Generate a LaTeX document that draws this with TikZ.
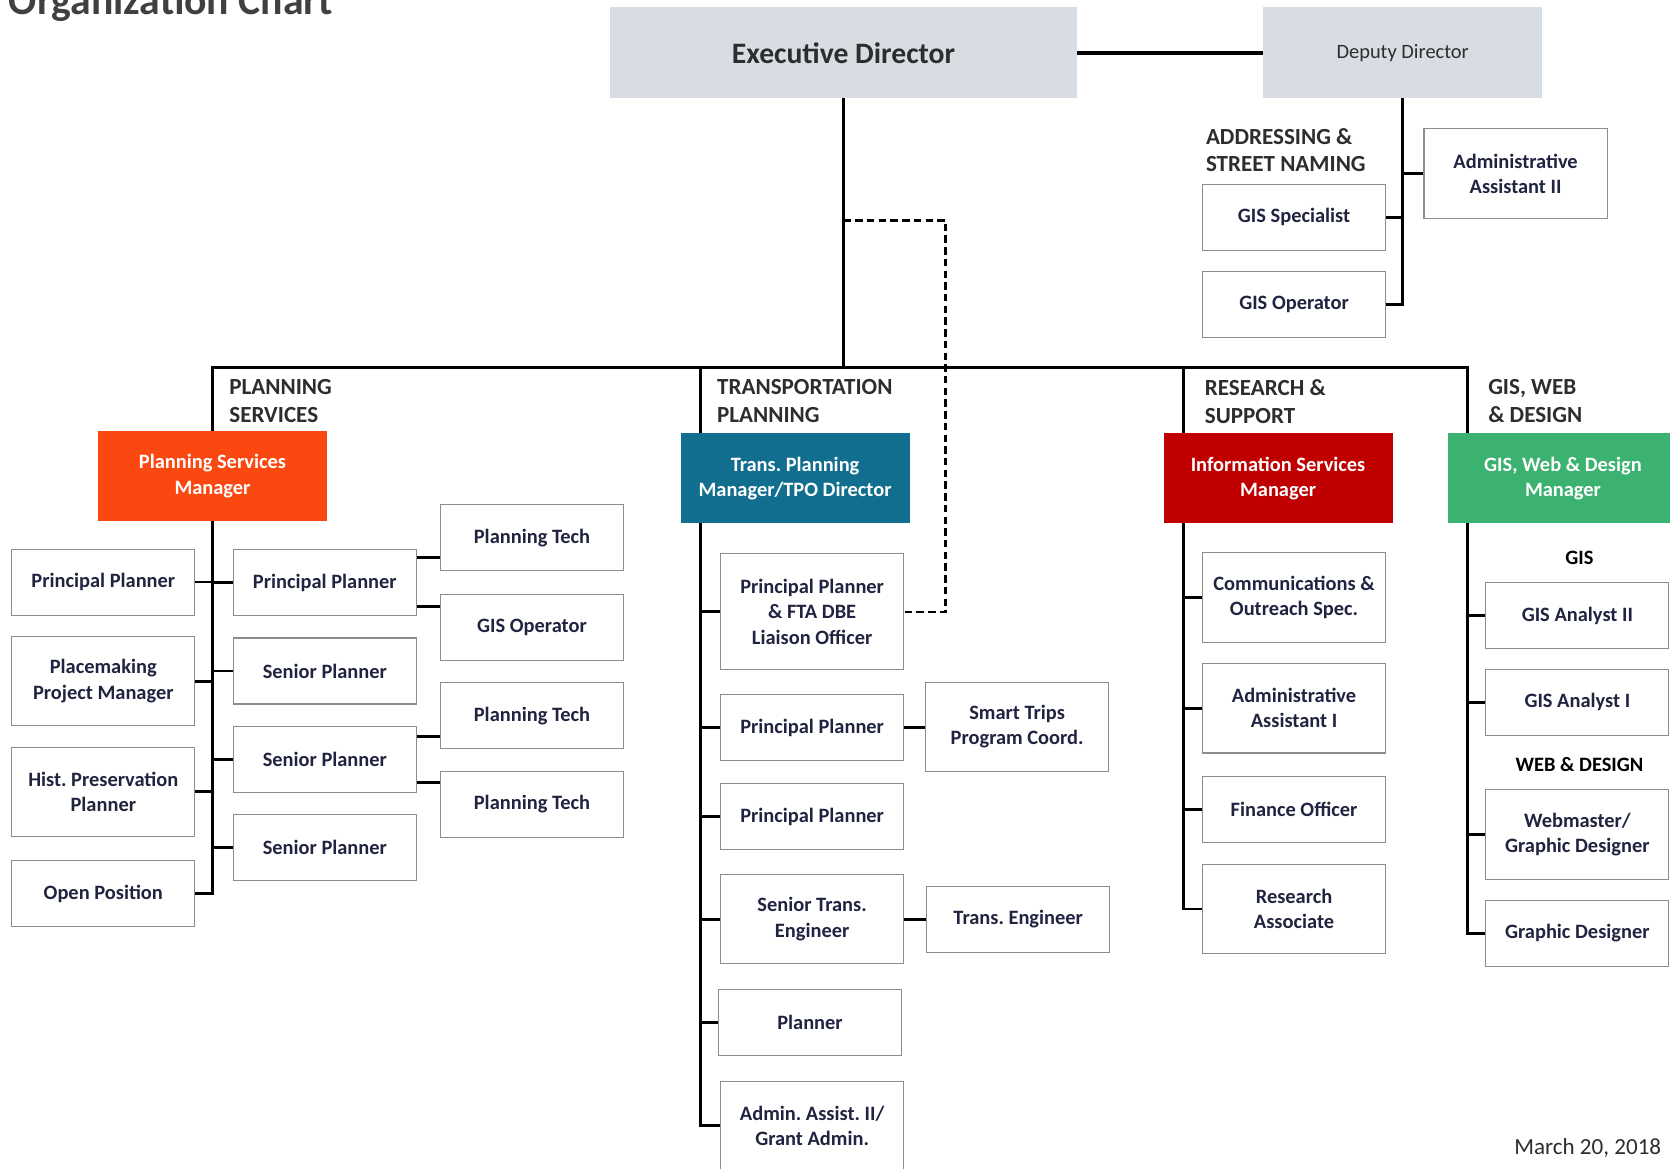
\documentclass[tikz,border=0pt]{standalone}
\usepackage{fontspec}
\setmainfont{Carlito}
\usetikzlibrary{calc}
\frenchspacing

\definecolor{boxline}{RGB}{140,140,140}
\definecolor{boxtext}{RGB}{32,36,64}
\definecolor{labelgray}{RGB}{45,45,45}
\definecolor{titlegray}{RGB}{64,64,64}
\definecolor{topfill}{RGB}{215,221,226}
\definecolor{psorange}{RGB}{250,72,16}
\definecolor{tpteal}{RGB}{18,110,142}
\definecolor{isred}{RGB}{192,0,0}
\definecolor{gisgreen}{RGB}{60,178,112}

\newcommand{\boxfont}{\fontsize{11.5}{14.2}\selectfont\bfseries}
\newcommand{\sectfont}{\fontsize{13}{15.6}\selectfont\bfseries}

\begin{document}
\begin{tikzpicture}[x=0.6pt,y=-0.6pt,% one unit = one pixel of the scan, y downwards
        post/.style={draw=boxline,line width=0.6pt,fill=white,text=boxtext,font=\boxfont,
            align=center,minimum width=103.2pt,minimum height=37.2pt,inner sep=1pt},
        tallpost/.style={post,minimum height=50.4pt},
        tallerpost/.style={post,minimum height=65.4pt},
        mgr/.style={fill=#1,text=white,font=\boxfont,align=center,
            minimum width=129pt,minimum height=50.4pt},
        top/.style={fill=topfill,text=labelgray,minimum height=51pt},
        section/.style={anchor=north west,align=left,inner sep=0pt,font=\sectfont,text=labelgray},
        link/.style={line width=1.6pt},
        dashlink/.style={line width=1.5pt,dash pattern=on 4.2pt off 2.4pt}]
\useasboundingbox (0,0) rectangle (1568,1097);

\node[anchor=base west,inner sep=0pt,font=\fontsize{23.5}{28}\selectfont\bfseries,text=titlegray] (title) at (8,14) {Organization Chart};

% top of the chart
\node[top,minimum width=262.8pt,font=\fontsize{16.7}{20}\selectfont\bfseries] (ed) at (792,49.5) {Executive Director};
\node[top,minimum width=157.2pt,font=\fontsize{11.5}{14}\selectfont] (dd) at (1317,49.5) {Deputy Director};

\node[section] (addr) at (1132,120) {ADDRESSING \&\\STREET NAMING};
\node[tallpost] (aa2) at (1423,163) {Administrative\\Assistant II};
\node[post] (gspec) at (1215,204) {GIS Specialist};
\node[post] (gop) at (1215,286) {GIS Operator};

% the four sections
\node[section] (psl) at (215,356) {PLANNING\\SERVICES};
\node[section] (tpl) at (673,356) {TRANSPORTATION\\PLANNING};
\node[section] (rsl) at (1131,356) {RESEARCH \&\\SUPPORT};
\node[section] (gwl) at (1397,356) {GIS, WEB\\\& DESIGN};

\node[mgr=psorange] (ps) at (199.5,447) {Planning Services\\Manager};
\node[mgr=tpteal] (tm) at (746.5,449) {Trans. Planning\\Manager/TPO Director};
\node[mgr=isred] (im) at (1200,449) {Information Services\\Manager};
\node[mgr=gisgreen] (gm) at (1467.5,449) {GIS, Web \& Design\\Manager};

% planning services
\node[post] (lpp) at (97,546.5) {Principal Planner};
\node[tallpost] (lplace) at (97,639.5) {Placemaking\\Project Manager};
\node[tallpost] (lhist) at (97,743.5) {Hist. Preservation\\Planner};
\node[post] (lopen) at (97,839) {Open Position};
\node[post] (mpp) at (305,547) {Principal Planner};
\node[post] (msp1) at (305,630) {Senior Planner};
\node[post] (msp2) at (305,713) {Senior Planner};
\node[post] (msp3) at (305,796) {Senior Planner};
\node[post] (rtech1) at (499.5,505) {Planning Tech};
\node[post] (rgis) at (499.5,589.5) {GIS Operator};
\node[post] (rtech2) at (499.5,672) {Planning Tech};
\node[post] (rtech3) at (499.5,755) {Planning Tech};

% transportation planning
\node[tallerpost] (tfta) at (762.5,574.5) {Principal Planner\\\& FTA DBE\\Liaison Officer};
\node[post] (tpp1) at (762.5,683) {Principal Planner};
\node[post] (tpp2) at (762.5,767) {Principal Planner};
\node[tallpost] (tste) at (762.5,863) {Senior Trans.\\Engineer};
\node[post] (tplan) at (760.5,960) {Planner};
\node[tallpost] (tadm) at (762.5,1057) {Admin. Assist. II/\\Grant Admin.};
\node[tallpost] (smart) at (955,682.5) {Smart Trips\\Program Coord.};
\node[post] (teng) at (956,863) {Trans. Engineer};

% research & support
\node[tallpost] (rcom) at (1215,561) {Communications \&\\Outreach Spec.};
\node[tallpost] (raa1) at (1215,665) {Administrative\\Assistant I};
\node[post] (rfin) at (1215,760) {Finance Officer};
\node[tallpost] (rres) at (1215,853.5) {Research\\Associate};

% gis, web & design
\node[font=\boxfont,text=black] (gisl) at (1483,524) {GIS};
\node[post] (gan2) at (1481,578) {GIS Analyst II};
\node[post] (gan1) at (1481,659.5) {GIS Analyst I};
\node[font=\boxfont,text=black] (webl) at (1483,718) {WEB \& DESIGN};
\node[tallpost] (gweb) at (1481,783.5) {Webmaster/\\Graphic Designer};
\node[post] (gdes) at (1481,876.5) {Graphic Designer};

\node[anchor=east,inner sep=0pt,font=\fontsize{13}{15}\selectfont,text=labelgray] (date) at (1560,1078) {March 20, 2018};

% connectors
\coordinate (bus) at (792,345);
\coordinate (dashturn) at (888,207);
\coordinate (tspine) at ([xshift=11.4pt]tm.south west);
\coordinate (ispine) at ([xshift=11.4pt]im.south west);
\coordinate (gspine) at ([xshift=10.8pt]gm.south west);

\draw[link,line width=2.2pt] (ed.east) -- (dd.west);
\draw[link] (ed.south) -- (bus);
\draw[link] (ps.north) |- (bus -| gspine) -- (gm.north -| gspine);
\draw[link] (tm.north -| tspine) -- (tspine |- bus);
\draw[link] (im.north -| ispine) -- (ispine |- bus);
\draw[dashlink] (ed.south |- dashturn) -- (dashturn) |- (tfta.east);

\draw[link] (dd.south) |- (gop.east);
\draw[link] (dd.south |- gspec.east) -- (gspec.east);
\draw[link] (dd.south |- aa2.west) -- (aa2.west);

\draw[link] (ps.south) |- (lopen.east);
\foreach \b in {lpp,lplace,lhist}
    \draw[link] (ps.south |- \b.east) -- (\b.east);
\foreach \b in {mpp,msp1,msp2,msp3}
    \draw[link] (ps.south |- \b.west) -- (\b.west);
\coordinate (a1) at ([yshift=-4.8pt]mpp.north east);
\coordinate (a2) at ([yshift=5.4pt]mpp.south east);
\coordinate (a3) at ([yshift=-6pt]msp2.north east);
\coordinate (a4) at ([yshift=6pt]msp2.south east);
\draw[link] (a1) -- (a1 -| rtech1.west);
\draw[link] (a2) -- (a2 -| rgis.west);
\draw[link] (a3) -- (a3 -| rtech2.west);
\draw[link] (a4) -- (a4 -| rtech3.west);

\draw[link] (tspine) |- (tadm.west);
\foreach \b in {tfta,tpp1,tpp2,tste,tplan}
    \draw[link] (tspine |- \b.west) -- (\b.west);
\draw[link] (tpp1.east) -- (smart.west |- tpp1.east);
\draw[link] (tste.east) -- (teng.west);

\draw[link] (ispine) |- (rres.west);
\foreach \b in {rcom,raa1,rfin}
    \draw[link] (ispine |- \b.west) -- (\b.west);

\draw[link] (gspine) |- (gdes.west);
\foreach \b in {gan2,gan1,gweb}
    \draw[link] (gspine |- \b.west) -- (\b.west);
\end{tikzpicture}
\end{document}
